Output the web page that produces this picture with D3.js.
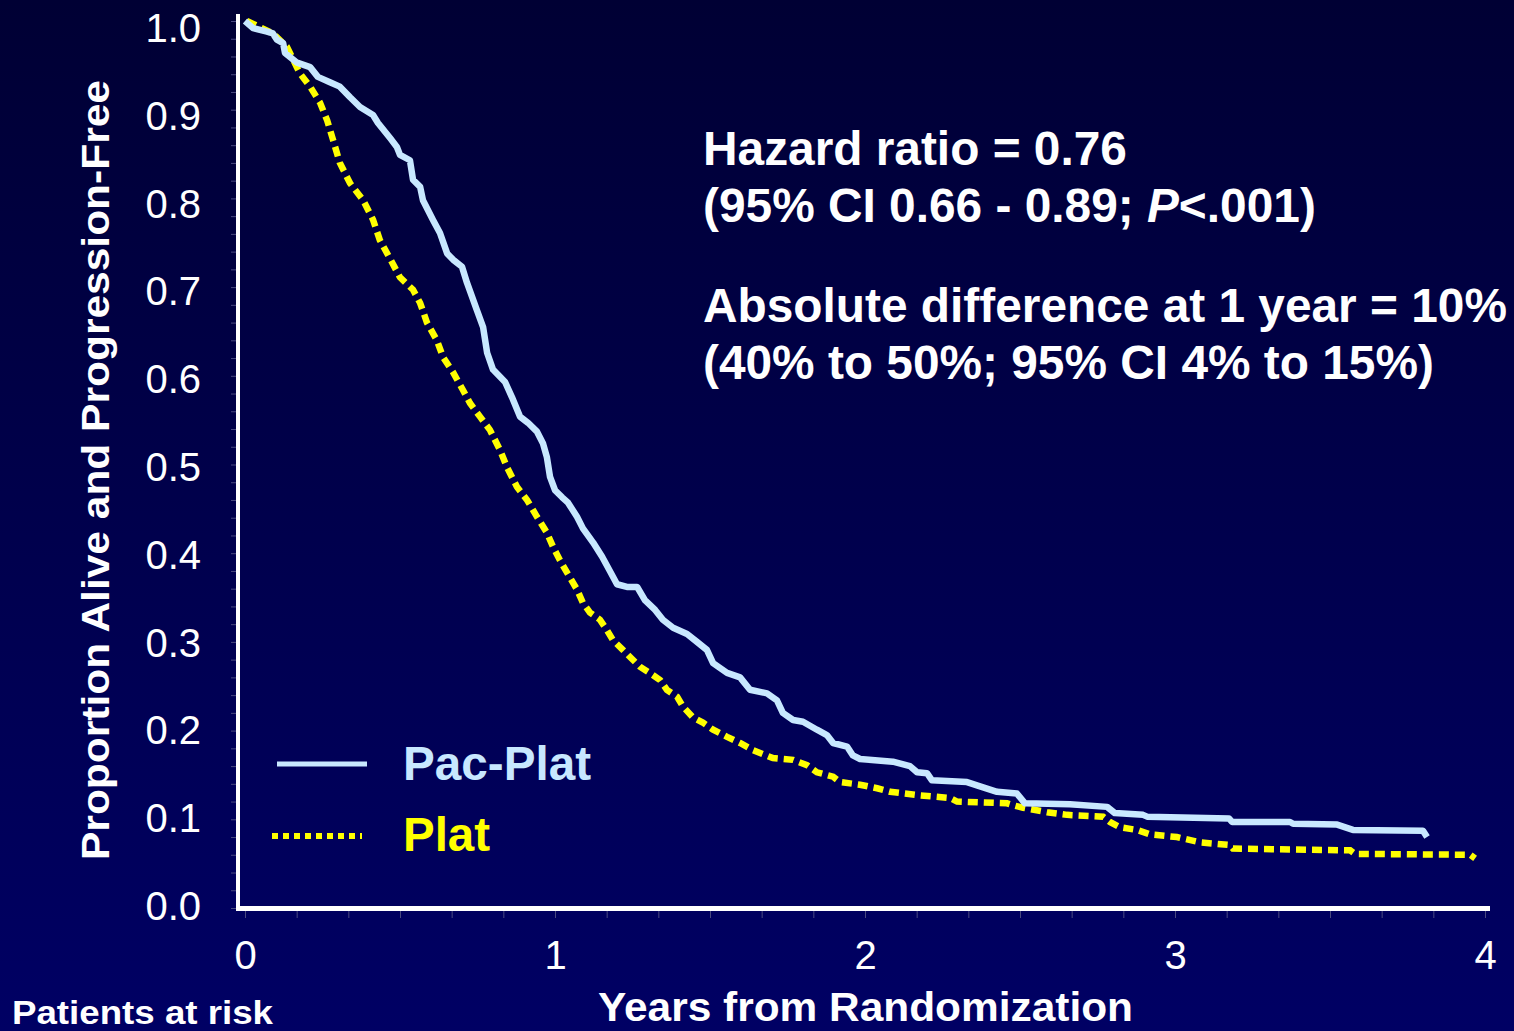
<!DOCTYPE html>
<html>
<head>
<meta charset="utf-8">
<script src="https://cdn.jsdelivr.net/npm/d3@7/dist/d3.min.js"></script>
<style>
  html, body { margin: 0; padding: 0; background: #000040; }
  svg { display: block; }
  text { font-family: "Liberation Sans", Arial, sans-serif; }
</style>
</head>
<body>
<svg id="chart" width="1514" height="1031"></svg>
<script>
// Kaplan-Meier progression-free survival, years from randomization
const pacPlatYears = [0, 0.026, 0.071, 0.090, 0.103, 0.123, 0.129, 0.168, 0.210, 0.235, 0.274, 0.306, 0.339, 0.371, 0.413, 0.429, 0.468, 0.490, 0.500, 0.532, 0.542, 0.565, 0.574, 0.606, 0.629, 0.652, 0.671, 0.700, 0.716, 0.748, 0.768, 0.781, 0.800, 0.839, 0.861, 0.887, 0.913, 0.942, 0.961, 0.974, 0.984, 1.000, 1.023, 1.042, 1.071, 1.090, 1.123, 1.152, 1.177, 1.200, 1.232, 1.265, 1.290, 1.323, 1.348, 1.381, 1.426, 1.458, 1.490, 1.510, 1.555, 1.597, 1.629, 1.684, 1.716, 1.735, 1.768, 1.800, 1.845, 1.877, 1.897, 1.942, 1.961, 1.984, 2.090, 2.145, 2.168, 2.200, 2.216, 2.329, 2.381, 2.426, 2.490, 2.516, 2.661, 2.781, 2.806, 2.897, 2.910, 3.174, 3.184, 3.371, 3.381, 3.523, 3.574, 3.800, 3.813];
const pacPlatSurv = [1.000, 0.992, 0.988, 0.986, 0.979, 0.975, 0.964, 0.953, 0.948, 0.937, 0.931, 0.926, 0.914, 0.903, 0.894, 0.885, 0.868, 0.858, 0.849, 0.843, 0.821, 0.813, 0.798, 0.776, 0.761, 0.738, 0.731, 0.723, 0.705, 0.674, 0.655, 0.626, 0.607, 0.593, 0.576, 0.554, 0.547, 0.537, 0.524, 0.508, 0.486, 0.471, 0.463, 0.457, 0.441, 0.428, 0.412, 0.396, 0.380, 0.365, 0.362, 0.362, 0.347, 0.336, 0.325, 0.316, 0.309, 0.300, 0.291, 0.276, 0.265, 0.260, 0.246, 0.242, 0.234, 0.220, 0.212, 0.210, 0.201, 0.195, 0.186, 0.182, 0.172, 0.168, 0.165, 0.160, 0.153, 0.152, 0.144, 0.142, 0.136, 0.131, 0.129, 0.118, 0.117, 0.114, 0.107, 0.105, 0.103, 0.101, 0.097, 0.097, 0.095, 0.094, 0.088, 0.087, 0.080];

const platYears = [0.006, 0.048, 0.090, 0.135, 0.145, 0.177, 0.210, 0.242, 0.265, 0.284, 0.306, 0.339, 0.381, 0.413, 0.435, 0.468, 0.500, 0.542, 0.565, 0.587, 0.619, 0.639, 0.671, 0.703, 0.726, 0.758, 0.790, 0.823, 0.845, 0.877, 0.910, 0.942, 0.974, 0.994, 1.016, 1.039, 1.071, 1.090, 1.113, 1.145, 1.168, 1.187, 1.219, 1.242, 1.274, 1.306, 1.339, 1.361, 1.394, 1.413, 1.445, 1.477, 1.510, 1.555, 1.597, 1.639, 1.703, 1.768, 1.813, 1.845, 1.897, 1.919, 1.984, 2.039, 2.081, 2.177, 2.274, 2.297, 2.458, 2.477, 2.510, 2.587, 2.652, 2.768, 2.790, 2.823, 2.877, 2.919, 3.006, 3.081, 3.177, 3.187, 3.565, 3.581, 3.952, 3.968];
const platSurv = [1.000, 0.993, 0.986, 0.971, 0.964, 0.941, 0.926, 0.908, 0.888, 0.866, 0.840, 0.817, 0.798, 0.776, 0.753, 0.732, 0.711, 0.697, 0.682, 0.660, 0.640, 0.621, 0.604, 0.584, 0.569, 0.554, 0.539, 0.516, 0.497, 0.475, 0.460, 0.441, 0.423, 0.407, 0.392, 0.378, 0.359, 0.344, 0.333, 0.325, 0.313, 0.302, 0.291, 0.283, 0.272, 0.265, 0.257, 0.246, 0.238, 0.227, 0.215, 0.209, 0.201, 0.193, 0.186, 0.178, 0.169, 0.167, 0.161, 0.153, 0.148, 0.142, 0.139, 0.135, 0.131, 0.127, 0.124, 0.120, 0.118, 0.116, 0.113, 0.108, 0.105, 0.103, 0.097, 0.091, 0.088, 0.083, 0.080, 0.074, 0.071, 0.067, 0.065, 0.061, 0.060, 0.056];

const xTickLabels = [0, 1, 2, 3, 4];
const yTickLabels = [0, 0.1, 0.2, 0.3, 0.4, 0.5, 0.6, 0.7, 0.8, 0.9, 1.0];
const seriesNames = ["Pac-Plat", "Plat"];
const statLines = [
  ["Hazard ratio = 0.76"],
  ["(95% CI 0.66 - 0.89; ", "P", "<.001)"],
  ["Absolute difference at 1 year = 10%"],
  ["(40% to 50%; 95% CI 4% to 15%)"]
];

const BLUE = "#c8e8ff";
const YELLOW = "#ffff00";

const svg = d3.select("#chart");

// background gradient
const defs = svg.append("defs");
const grad = defs.append("linearGradient").attr("id", "bg")
  .attr("x1", 0).attr("y1", 0).attr("x2", 0).attr("y2", 1);
grad.append("stop").attr("offset", "0%").attr("stop-color", "#000034");
grad.append("stop").attr("offset", "100%").attr("stop-color", "#000064");
svg.append("rect").attr("width", 1514).attr("height", 1031).attr("fill", "url(#bg)");

const x = d3.scaleLinear().domain([0, 4]).range([245, 1485]);
const y = d3.scaleLinear().domain([0, 1]).range([908, 21]);
// tick labels sit on a slightly tighter ladder than the plot area
const yLabel = y.copy().range([905, 27]);

// minor ticks (faint)
svg.append("g")
  .attr("transform", "translate(236,0)")
  .call(d3.axisLeft(y).tickValues(d3.range(0, 1.0001, 0.02)).tickSize(5).tickFormat(""))
  .call(g => g.select(".domain").remove())
  .call(g => g.selectAll("line").attr("stroke", "#4a4a80").attr("stroke-width", 1));
svg.append("g")
  .attr("transform", "translate(0,911)")
  .call(d3.axisBottom(x).tickValues(d3.range(0, 4.0001, 1 / 6)).tickSize(7).tickFormat(""))
  .call(g => g.select(".domain").remove())
  .call(g => g.selectAll("line").attr("stroke", "#4a4a80").attr("stroke-width", 1));

// tick labels
svg.append("g")
  .attr("transform", "translate(201,0)")
  .call(d3.axisLeft(yLabel).tickValues(yTickLabels).tickSize(0).tickFormat(d3.format(".1f")))
  .call(g => g.select(".domain").remove())
  .call(g => g.selectAll("text")
    .attr("x", 0).attr("dy", "0.36em")
    .attr("fill", "#ffffff").attr("font-size", 40)
    .attr("font-family", "Liberation Sans, Arial, sans-serif"));

svg.append("g")
  .attr("transform", "translate(0,940)")
  .call(d3.axisBottom(x).tickValues(xTickLabels).tickSize(0).tickFormat(d3.format("d")))
  .call(g => g.select(".domain").remove())
  .call(g => g.selectAll("text")
    .attr("y", 0).attr("dy", "0.73em")
    .attr("fill", "#ffffff").attr("font-size", 40)
    .attr("font-family", "Liberation Sans, Arial, sans-serif"));

// axis lines
svg.append("line").attr("x1", 238).attr("x2", 238).attr("y1", 14).attr("y2", 911)
  .attr("stroke", "#ffffff").attr("stroke-width", 4);
svg.append("line").attr("x1", 236).attr("x2", 1490).attr("y1", 908.5).attr("y2", 908.5)
  .attr("stroke", "#ffffff").attr("stroke-width", 5);

// survival curves
const line = d3.line().x(d => x(d[0])).y(d => y(d[1]));
const platData = platYears.map((t, i) => [t, platSurv[i]]);
const pacData = pacPlatYears.map((t, i) => [t, pacPlatSurv[i]]);

svg.append("path").datum(platData)
  .attr("d", line).attr("fill", "none")
  .attr("stroke", YELLOW).attr("stroke-width", 6.5)
  .attr("stroke-dasharray", "10,6").attr("stroke-linejoin", "miter");

svg.append("path").datum(pacData)
  .attr("d", line).attr("fill", "none")
  .attr("stroke", BLUE).attr("stroke-width", 6.5)
  .attr("stroke-linejoin", "round");

// legend
const legend = svg.append("g");
legend.append("line").attr("x1", 277).attr("x2", 367).attr("y1", 764).attr("y2", 764)
  .attr("stroke", BLUE).attr("stroke-width", 5);
legend.append("line").attr("x1", 272).attr("x2", 362).attr("y1", 836).attr("y2", 836)
  .attr("stroke", YELLOW).attr("stroke-width", 6).attr("stroke-dasharray", "6,5");
legend.append("text").attr("x", 403).attr("y", 780).text(seriesNames[0])
  .attr("fill", BLUE).attr("font-weight", "bold").attr("font-size", 48)
  .attr("textLength", 188).attr("lengthAdjust", "spacingAndGlyphs");
legend.append("text").attr("x", 403).attr("y", 851).text(seriesNames[1])
  .attr("fill", YELLOW).attr("font-weight", "bold").attr("font-size", 48)
  .attr("textLength", 87).attr("lengthAdjust", "spacingAndGlyphs");

// statistics block
const statBase = [165, 222, 322, 379];
const statWidth = [424, 613, 804, 731];
statLines.forEach((parts, i) => {
  const g = svg.append("g");
  const t = g.append("text").attr("x", 0).attr("y", 0)
    .attr("fill", "#ffffff").attr("font-weight", "bold").attr("font-size", 48);
  parts.forEach(p => {
    const ts = t.append("tspan").text(p);
    if (p === "P") ts.attr("font-style", "italic");
  });
  const w = t.node().getComputedTextLength();
  g.attr("transform", `translate(703,${statBase[i]}) scale(${statWidth[i] / w},1)`);
});

// axis titles
svg.append("text")
  .attr("transform", "translate(109,470) rotate(-90)")
  .attr("text-anchor", "middle")
  .attr("fill", "#ffffff").attr("font-weight", "bold").attr("font-size", 38)
  .attr("textLength", 780).attr("lengthAdjust", "spacingAndGlyphs")
  .text("Proportion Alive and Progression-Free");

svg.append("text")
  .attr("x", 598).attr("y", 1021)
  .attr("fill", "#ffffff").attr("font-weight", "bold").attr("font-size", 40)
  .attr("textLength", 535).attr("lengthAdjust", "spacingAndGlyphs")
  .text("Years from Randomization");

svg.append("text")
  .attr("x", 12).attr("y", 1024)
  .attr("fill", "#ffffff").attr("font-weight", "bold").attr("font-size", 34)
  .attr("textLength", 261).attr("lengthAdjust", "spacingAndGlyphs")
  .text("Patients at risk");
</script>
</body>
</html>
